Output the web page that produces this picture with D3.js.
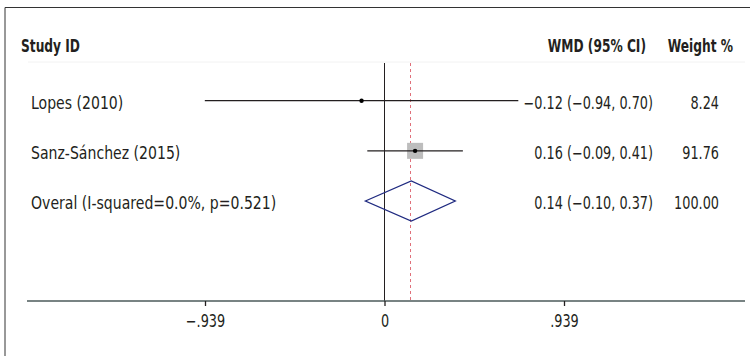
<!DOCTYPE html>
<html>
<head>
<meta charset="utf-8">
<script src="https://cdn.jsdelivr.net/npm/d3@7"></script>
<style>
  body { margin: 0; background: #fff; }
  svg text { font-family: "DejaVu Sans Condensed", "Liberation Sans Narrow", sans-serif; fill: #231f20; font-size: 17px; }
</style>
</head>
<body>
<div id="chart"></div>
<script>
"use strict";

// study rows
let studies = ["Lopes (2010)", "Sanz-Sánchez (2015)"];
let effects = [-0.12, 0.16];
let lower = [-0.94, -0.09];
let upper = [0.70, 0.41];
let weights = [8.24, 91.76];

// pooled estimate
let overallLabel = "Overal (I-squared=0.0%, p=0.521)";
let overall = [0.14, -0.10, 0.37];
let overallWeight = 100.00;

let tickValues = [-0.939, 0, 0.939];
let tickLabels = ["\u2212.939", "0", ".939"];

let width = 750, height = 356;
// horizontal squeeze so the font reads like a condensed face
let squeezeLabel = 0.92, squeezeNum = 0.84, squeezeHead = 0.8;

let svg = d3.select("#chart").append("svg")
  .attr("width", width)
  .attr("height", height);

let x = d3.scaleLinear()
  .domain([-0.939, 0.939])
  .range([205, 564]);

let rows = studies.concat([overallLabel]);
let y = d3.scalePoint()
  .domain(rows)
  .range([100.7, 201]);

let boxSize = d3.scaleLinear()
  .domain([0, d3.max(weights)])
  .range([0, 16]);

let fmt = v => (v < 0 ? "\u2212" : "") + Math.abs(v).toFixed(2);
let ciText = (e, l, u) => fmt(e) + " (" + fmt(l) + ", " + fmt(u) + ")";

function addText(g, tx, ty, str, sq, anchor) {
  return g.append("text")
    .attr("transform", "translate(" + tx + "," + ty + ") scale(" + sq + ",1)")
    .attr("text-anchor", anchor || "start")
    .text(str);
}

let lineTop = 63, axisY = 301;

// frame (top and left only)
svg.append("path")
  .attr("d", "M5,356V7.5H750")
  .style("fill", "none")
  .style("stroke", "#333")
  .style("stroke-width", 1);

// faint header rule
svg.append("line")
  .attr("x1", 28).attr("x2", 745)
  .attr("y1", 62).attr("y2", 62)
  .style("stroke", "#f2f2f2");

// headers
let headG = svg.append("g").style("font-weight", "bold");
addText(headG, 21, 52, "Study ID", squeezeHead);
addText(headG, 646, 52, "WMD (95% CI)", squeezeHead, "end");
addText(headG, 733, 52, "Weight %", squeezeHead, "end");

// null line
svg.append("line")
  .attr("x1", x(0)).attr("x2", x(0))
  .attr("y1", lineTop).attr("y2", axisY)
  .style("stroke", "#231f20")
  .style("stroke-width", 1);

// overall effect line
svg.append("line")
  .attr("x1", Math.floor(x(overall[0])) - 0.5).attr("x2", Math.floor(x(overall[0])) - 0.5)
  .attr("y1", lineTop).attr("y2", axisY)
  .style("stroke", "#e0707a")
  .style("stroke-width", 1)
  .style("stroke-dasharray", "3,3");

// study rows
let rowG = svg.append("g").selectAll(".study")
  .data(studies)
  .enter().append("g")
  .attr("class", "study")
  .attr("transform", d => "translate(0, " + y(d) + ")");

rowG.append("rect")
  .attr("x", (d, i) => x(effects[i]) - boxSize(weights[i]) / 2)
  .attr("y", (d, i) => -boxSize(weights[i]) / 2)
  .attr("width", (d, i) => boxSize(weights[i]))
  .attr("height", (d, i) => boxSize(weights[i]))
  .style("fill", "#bdbdbd");

rowG.append("line")
  .attr("x1", (d, i) => x(lower[i]))
  .attr("x2", (d, i) => x(upper[i]))
  .style("stroke", "#231f20")
  .style("stroke-width", 1.3);

rowG.append("circle")
  .attr("cx", (d, i) => x(effects[i]))
  .attr("r", 2.2)
  .style("fill", "#000");

// diamond
let oy = y(overallLabel);
svg.append("path")
  .attr("d", "M" + x(overall[1]) + "," + oy +
    "L" + x(overall[0]) + "," + (oy - 20) +
    "L" + x(overall[2]) + "," + oy +
    "L" + x(overall[0]) + "," + (oy + 20) + "Z")
  .style("fill", "none")
  .style("stroke", "#1f2a80")
  .style("stroke-width", 1.3);

// text columns
let textG = svg.append("g");
rows.forEach((r, i) => {
  let ty = y(r) + 8;
  let isOverall = i === studies.length;
  addText(textG, 31, ty, r, squeezeLabel);
  addText(textG, 653, ty,
    isOverall ? ciText(overall[0], overall[1], overall[2]) : ciText(effects[i], lower[i], upper[i]),
    squeezeNum, "end");
  addText(textG, 719, ty, (isOverall ? overallWeight : weights[i]).toFixed(2), squeezeNum, "end");
});

// x axis
svg.append("line")
  .attr("x1", 27).attr("x2", 745)
  .attr("y1", axisY).attr("y2", axisY)
  .style("stroke", "#4b5a5a")
  .style("stroke-width", 1.5);

let axis = d3.axisBottom(x)
  .tickValues(tickValues)
  .tickSize(5)
  .tickFormat((d, i) => tickLabels[i]);

let axisG = svg.append("g")
  .attr("transform", "translate(0, " + axisY + ")")
  .call(axis);

axisG.select(".domain").remove();
axisG.selectAll(".tick line").style("stroke", "#231f20").style("stroke-width", 1.3);
axisG.selectAll(".tick text")
  .attr("y", 0)
  .attr("dy", 0)
  .attr("transform", "translate(0,26) scale(" + squeezeNum + ",1)")
  .style("font-size", "17px")
  .style("font-family", "\"DejaVu Sans Condensed\", sans-serif")
  .style("fill", "#231f20");
</script>
</body>
</html>
